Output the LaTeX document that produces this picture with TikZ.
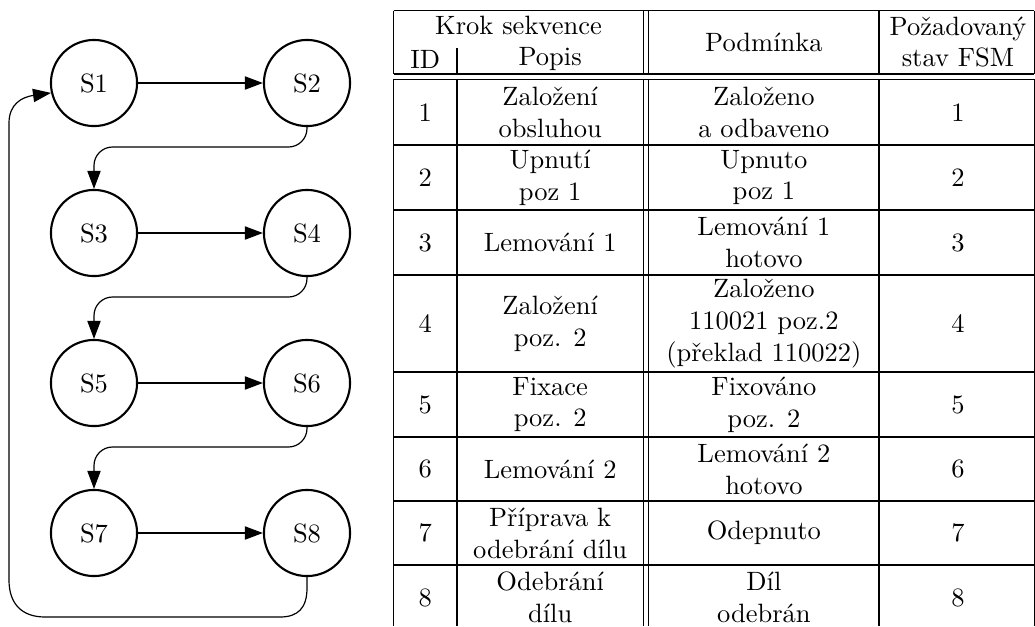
\documentclass[tikz,border=0pt]{standalone}
\usetikzlibrary{arrows.meta}
\begin{document}
\begin{tikzpicture}[x=0.3774pt,y=0.3774pt,
  state/.style={circle,draw,line width=0.8pt,minimum size=32.5pt,inner sep=0pt},
  conn/.style={line width=0.45pt,-{Triangle[length=6.8pt,width=5pt]}},
  rule/.style={line width=0.4pt},
  cell/.style={align=center,inner sep=0pt,font=\fontsize{10pt}{12pt}\selectfont},
]
\useasboundingbox (0,0) rectangle (1035,-626);

% --- state machine ---
\node[state] (S1) at (94,-83)  {S1};
\node[state] (S2) at (307,-83) {S2};
\node[state] (S3) at (94,-233) {S3};
\node[state] (S4) at (307,-233) {S4};
\node[state] (S5) at (94,-383) {S5};
\node[state] (S6) at (307,-383) {S6};
\node[state] (S7) at (94,-533) {S7};
\node[state] (S8) at (307,-533) {S8};

% bend points of the row-to-row transitions
\coordinate (m23) at (94,-147);
\coordinate (m45) at (94,-297);
\coordinate (m67) at (94,-447);

% points of the return path S8 -> S1
\coordinate (r0) at (307,-588);
\coordinate (r1) at (307,-608);
\coordinate (r2) at (298,-617);
\coordinate (r3) at (280,-617);
\coordinate (r4) at (45,-617);
\coordinate (r5) at (22,-617);
\coordinate (r6) at (9,-604);
\coordinate (r7) at (9,-580);
\coordinate (r8) at (9,-123);
\coordinate (r9) at (9,-104);
\coordinate (r10) at (22,-97);

\draw[conn] (S1) -- (S2);
\draw[conn] (S3) -- (S4);
\draw[conn] (S5) -- (S6);
\draw[conn] (S7) -- (S8);
\draw[conn,rounded corners=7pt] (S2.south) |- (m23) -- (S3.north);
\draw[conn,rounded corners=7pt] (S4.south) |- (m45) -- (S5.north);
\draw[conn,rounded corners=7pt] (S6.south) |- (m67) -- (S7.north);
\draw[conn] (S8.south) -- (r0) .. controls (r1) and (r2) .. (r3) -- (r4)
  .. controls (r5) and (r6) .. (r7) -- (r8)
  .. controls (r9) and (r10) .. (S1.193);

% --- table: rules ---
\def\xL{393.5}\def\xA{457}\def\xDa{643.5}\def\xDb{648.8}\def\xC{879}\def\xR{1034.3}
\draw[rule] (\xL,-10.5) -- (\xR,-10.5);
\draw[rule] (\xL,-74) -- (\xR,-74);
\draw[rule] (\xL,-79.3) -- (\xR,-79.3);
\foreach \yy in {145,210,275,372,437,501,565}
  \draw[rule] (\xL,-\yy) -- (\xR,-\yy);
\foreach \xx in {\xL,\xDa,\xDb,\xC,\xR} {
  \draw[rule] (\xx,-10.5) -- (\xx,-74);
  \draw[rule] (\xx,-79.3) -- (\xx,-626);
}
\draw[rule] (\xA,-48) -- (\xA,-74);
\draw[rule] (\xA,-79.3) -- (\xA,-626);

% --- table: header ---
\def\cI{425.2}\def\cP{550.2}\def\cD{763.9}\def\cS{958}
\node[cell] (hk) at (518.5,-25) {Krok sekvence};
\node[cell] (hid) at (\cI,-59) {ID};
\node[cell] (hpo) at (\cP,-59) {Popis};
\node[cell] (hpd) at (\cD,-42) {Podmínka};
\node[cell] (hst) at (\cS,-42) {Požadovaný\\stav FSM};

% --- table: body ---
\node[cell] (i1) at (\cI,-112.5) {1};
\node[cell] (p1) at (\cP,-112.5) {Založení\\obsluhou};
\node[cell] (d1) at (\cD,-112.5) {Založeno\\a odbaveno};
\node[cell] (s1) at (\cS,-112.5) {1};

\node[cell] (i2) at (\cI,-177.5) {2};
\node[cell] (p2) at (\cP,-177.5) {Upnutí\\poz 1};
\node[cell] (d2) at (\cD,-177.5) {Upnuto\\poz 1};
\node[cell] (s2) at (\cS,-177.5) {2};

\node[cell] (i3) at (\cI,-242.5) {3};
\node[cell] (p3) at (\cP,-242.5) {Lemování 1};
\node[cell] (d3) at (\cD,-242.5) {Lemování 1\\hotovo};
\node[cell] (s3) at (\cS,-242.5) {3};

\node[cell] (i4) at (\cI,-323.5) {4};
\node[cell] (p4) at (\cP,-323.5) {Založení\\poz. 2};
\node[cell] (d4) at (\cD,-323.5) {Založeno\\110021 poz.2\\(překlad 110022)};
\node[cell] (s4) at (\cS,-323.5) {4};

\node[cell] (i5) at (\cI,-404.5) {5};
\node[cell] (p5) at (\cP,-404.5) {Fixace\\poz. 2};
\node[cell] (d5) at (\cD,-404.5) {Fixováno\\poz. 2};
\node[cell] (s5) at (\cS,-404.5) {5};

\node[cell] (i6) at (\cI,-469) {6};
\node[cell] (p6) at (\cP,-469) {Lemování 2};
\node[cell] (d6) at (\cD,-469) {Lemování 2\\hotovo};
\node[cell] (s6) at (\cS,-469) {6};

\node[cell] (i7) at (\cI,-533) {7};
\node[cell] (p7) at (\cP,-533) {Příprava k\\odebrání dílu};
\node[cell] (d7) at (\cD,-533) {Odepnuto};
\node[cell] (s7) at (\cS,-533) {7};

\node[cell] (i8) at (\cI,-597.5) {8};
\node[cell] (p8) at (\cP,-597.5) {Odebrání\\dílu};
\node[cell] (d8) at (\cD,-597.5) {Díl\\odebrán};
\node[cell] (s8) at (\cS,-597.5) {8};
\end{tikzpicture}
\end{document}
